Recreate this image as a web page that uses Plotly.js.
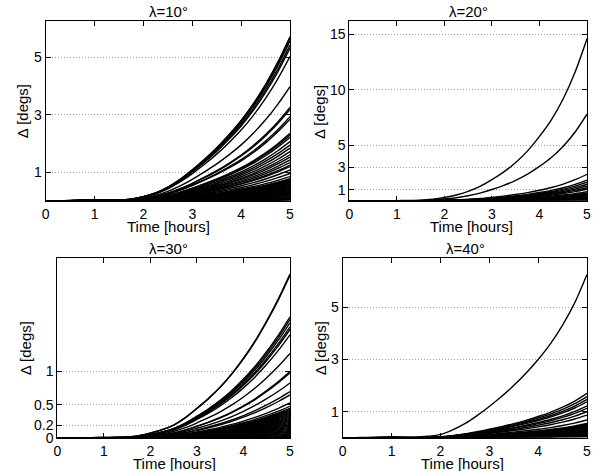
<!DOCTYPE html>
<html>
<head>
<meta charset="utf-8">
<script src="https://cdn.plot.ly/plotly-3.0.1.min.js"></script>
<style>html,body{margin:0;padding:0;background:#fff;}#chart{width:594px;height:471px;}</style>
</head>
<body>
<div id="chart"></div>
<script>
// Time samples (hours)
const TIME = [0,0.25,0.5,0.75,1,1.25,1.5,1.75,2,2.25,2.5,2.75,3,3.25,3.5,3.75,4,4.25,4.5,4.75,5];

// Shape of the largest curve in each panel
const PROFILE_10 = [0,0.005,0.015,0.03,0.04,0.035,0.03,0.06,0.15,0.28,0.48,0.75,1.08,1.45,1.85,2.3,2.8,3.38,4.05,4.82,5.7];
const PROFILE_20 = [0,0,0.005,0.01,0.02,0.03,0.06,0.15,0.3,0.52,0.85,1.3,1.9,2.6,3.45,4.5,5.8,7.3,9.2,11.6,14.6];
const PROFILE_30 = [0,0.003,0.008,0.012,0.015,0.017,0.022,0.04,0.08,0.13,0.2,0.31,0.45,0.6,0.77,0.97,1.2,1.46,1.76,2.09,2.46];
const PROFILE_40 = [0,0.005,0.015,0.03,0.04,0.035,0.03,0.06,0.12,0.3,0.54,0.85,1.2,1.58,2.0,2.47,3.0,3.6,4.32,5.18,6.26];

// Values of each curve at t = 5 h
const ENDS_10 = [5.72,5.67,5.6,5.58,5.43,5.32,5.03,3.98,3.26,3.19,2.94,2.85,2.36,2.3,2.22,2.07,1.95,1.84,1.72,1.61,1.53,1.43,1.34,1.25,1.2,1.08,0.96,0.85,
  0.78,0.75,0.72,0.69,0.66,0.63,0.60,0.57,0.54,0.51,0.48,0.45,0.42,0.39,0.36,0.33,0.30,0.27,0.24,0.21,0.18,0.15,0.12,0.09,0.06,0.03];
const ENDS_20 = [14.6,7.8,2.39,1.87,1.67,1.49,1.33,1.18,1.04,0.82,0.68,
  0.6,0.55,0.5,0.45,0.4,0.35,0.3,0.25,0.2,0.15,0.1,0.05];
const ENDS_30 = [2.46,2.44,1.82,1.78,1.73,1.67,1.63,1.55,1.27,1.0,0.98,0.83,0.70,0.65,0.53,0.48,
  0.45,0.435,0.42,0.405,0.39,0.375,0.36,0.345,0.33,0.315,0.30,0.285,0.27,0.255,0.24,0.225,0.21,0.195,0.18,0.165,0.15,0.135,0.12,0.105,0.09,0.075,0.06,0.045,0.03,0.015];
const ENDS_40 = [6.26,1.70,1.58,1.47,1.38,1.22,1.13,1.0,0.87,0.68,0.55,
  0.52,0.49,0.46,0.43,0.40,0.37,0.34,0.31,0.28,0.25,0.22,0.19,0.16,0.13,0.10,0.07,0.04];

// Tick labels
const X_TICKS = [0,1,2,3,4,5];
const Y_TICKS_10 = [1,3,5];
const Y_TICKS_20 = [1,3,5,10,15];
const Y_TICKS_30 = [0,0.2,0.5,1];
const Y_TICKS_40 = [1,3,5];
const PANEL_TITLES = ['λ=10°','λ=20°','λ=30°','λ=40°'];
const X_TITLE = 'Time [hours]';
const Y_TITLE = 'Δ [degs]';

function curves(profile, ends, xa, ya) {
  const last = profile[profile.length - 1];
  return ends.map(e => ({
    type: 'scatter', mode: 'lines', x: TIME,
    y: profile.map(v => v * e / last),
    xaxis: xa, yaxis: ya,
    line: {color: '#000', width: 1.4, shape: 'spline', smoothing: 0.8},
    hoverinfo: 'skip', showlegend: false
  }));
}

const data = [].concat(
  curves(PROFILE_10, ENDS_10, 'x', 'y'),
  curves(PROFILE_20, ENDS_20, 'x2', 'y2'),
  curves(PROFILE_30, ENDS_30, 'x3', 'y3'),
  curves(PROFILE_40, ENDS_40, 'x4', 'y4')
);

const W = 594, H = 471;
const FONT = 'Liberation Sans, Arial, Helvetica, sans-serif';
function px(x) { return x / W; }
function py(y) { return 1 - y / H; }

function xax(d0, d1, anchor) {
  return {domain: [px(d0), px(d1)], anchor: anchor, range: [0, 5], tickvals: X_TICKS,
    ticks: 'inside', ticklen: 5, tickcolor: '#000', showline: true, linecolor: '#000', linewidth: 1,
    mirror: 'ticks', showgrid: false, zeroline: false, fixedrange: true,
    tickfont: {family: FONT, size: 14, color: '#000', weight: 'normal'}};
}
function yax(top, bottom, anchor, rng, ticks) {
  return {domain: [py(bottom), py(top)], anchor: anchor, range: rng, tickvals: ticks,
    ticks: 'inside', ticklen: 5, tickcolor: '#000', showline: true, linecolor: '#000', linewidth: 1,
    mirror: 'ticks', showgrid: true, gridcolor: '#a0a0a0', griddash: '1px,2px', gridwidth: 1,
    zeroline: false, fixedrange: true, ticklabelstandoff: 0,
    tickfont: {family: FONT, size: 14, color: '#000', weight: 'normal'}};
}

function ann(text, x, y, rot) {
  return {text: text, x: px(x), y: py(y), xref: 'paper', yref: 'paper', showarrow: false,
    xanchor: 'center', yanchor: 'middle', textangle: rot || 0,
    font: {family: FONT, size: 15, color: '#000', weight: 'normal'}};
}

const layout = {
  width: W, height: H, margin: {l: 0, r: 0, t: 0, b: 0},
  paper_bgcolor: '#fff', plot_bgcolor: '#fff', showlegend: false,
  xaxis: xax(45.7, 290, 'y'),
  yaxis: yax(21, 201, 'x', [0, 6.27], Y_TICKS_10),
  xaxis2: xax(349.3, 587, 'y2'),
  yaxis2: yax(21, 200.8, 'x2', [0, 16.2], Y_TICKS_20),
  xaxis3: xax(57.3, 290, 'y3'),
  yaxis3: yax(258, 438.4, 'x3', [0, 2.7], Y_TICKS_30),
  xaxis4: xax(342.7, 587, 'y4'),
  yaxis4: yax(258, 437.8, 'x4', [0, 6.89], Y_TICKS_40),
  annotations: [
    ann(PANEL_TITLES[0], 168, 11.5),
    ann(PANEL_TITLES[1], 468, 11.5),
    ann(PANEL_TITLES[2], 168.3, 248.5),
    ann(PANEL_TITLES[3], 465.3, 248.5),
    ann(X_TITLE, 168.7, 226),
    ann(X_TITLE, 471, 226),
    ann(X_TITLE, 174, 463.5),
    ann(X_TITLE, 463, 463),
    ann(Y_TITLE, 22.5, 111.7, -90),
    ann(Y_TITLE, 319.3, 111.7, -90),
    ann(Y_TITLE, 25.3, 348, -90),
    ann(Y_TITLE, 320.3, 348, -90)
  ]
};

Plotly.newPlot('chart', data, layout, {staticPlot: true, displayModeBar: false});
</script>
</body>
</html>
